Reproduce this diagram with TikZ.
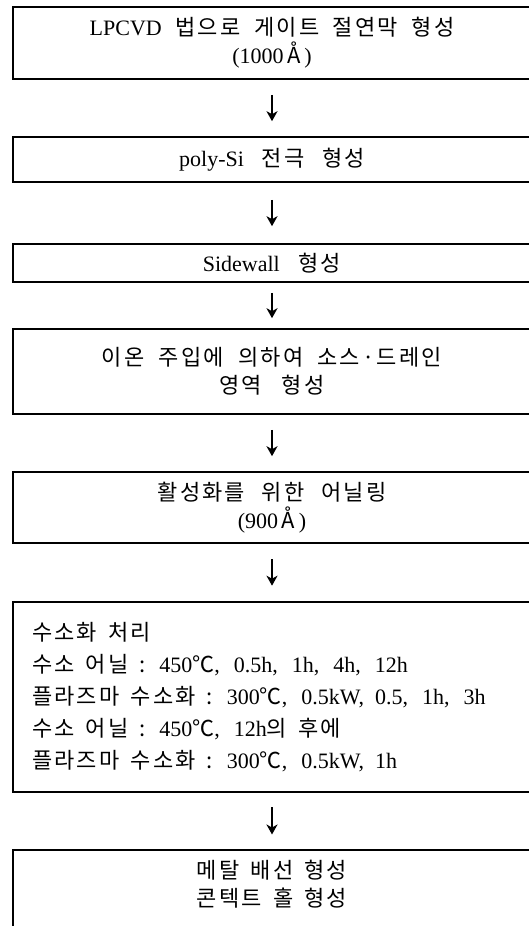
\documentclass[tikz,border=0pt]{standalone}
\usepackage{fontspec}
\setmainfont{Liberation Serif}
\newfontfamily\krfont{Noto Sans CJK KR}[LetterSpace=10]
\newcommand{\kr}[1]{{\krfont #1}}
\usetikzlibrary{arrows.meta,positioning}

\begin{document}
\begin{tikzpicture}[x=1pt,y=-1pt,
  widesp/.style={execute at begin node={\spaceskip=11pt plus 2pt minus 1pt\xspaceskip=14pt\sfcode`\,=2000\relax}},
  stepbox/.style={draw, line width=1.6pt, text width=480pt, inner xsep=19pt, inner ysep=0pt,
    align=center, font=\fontsize{22}{28}\selectfont, widesp},
  flow/.style={-{Stealth[length=10pt,width=11pt,inset=3pt]}, line width=1.8pt}]
\useasboundingbox (0,0) rectangle (529,926);
\clip (0,0) rectangle (529,926);

\node[stepbox, minimum height=72] (s1) at (272,43)
  {LPCVD \kr{법으로 게이트 절연막 형성}\\(1000\,\kr{Å}\,)};
\node[stepbox, minimum height=45] (s2) at (272,159.5) {poly-Si \kr{전극 형성}};
\node[stepbox, minimum height=38] (s3) at (272,263) {Sidewall \kr{형성}};
\node[stepbox, minimum height=85] (s4) at (272,371.5)
  {\kr{이온 주입에 의하여 소스·드레인}\\\kr{영역 형성}};
\node[stepbox, minimum height=71] (s5) at (272,507.5)
  {\kr{활성화를 위한 어닐링}\\(900\,\kr{Å}\,)};
\node[stepbox, minimum height=190, align=left, font=\fontsize{22}{32}\selectfont] (s6) at (272,697)
  {\kr{수소화 처리}\\
   \kr{수소 어닐 :} 450\kr{℃}, 0.5h, 1h, 4h, 12h\\
   \kr{플라즈마 수소화 :} 300\kr{℃}, 0.5kW, 0.5, 1h, 3h\\
   \kr{수소 어닐 :} 450\kr{℃}, 12h\kr{의 후에}\\
   \kr{플라즈마 수소화 :} 300\kr{℃}, 0.5kW, 1h};
% last box runs off the page
\node[stepbox, minimum height=140, anchor=north] (s7) at (272,849) {};
\node[font=\fontsize{22}{28}\selectfont, align=center, widesp] (t7) at (272,884)
  {\kr{메탈 배선 형성}\\\kr{콘텍트 홀 형성}};

\foreach \a/\b/\s in {s1/s2/15,s2/s3/17,s3/s4/10,s4/s5/15,s5/s6/15.5,s6/s7/14.5} {
\draw[flow, shorten <=\s pt, shorten >=\s pt] (\a) -- (\b);
};
\end{tikzpicture}
\end{document}
